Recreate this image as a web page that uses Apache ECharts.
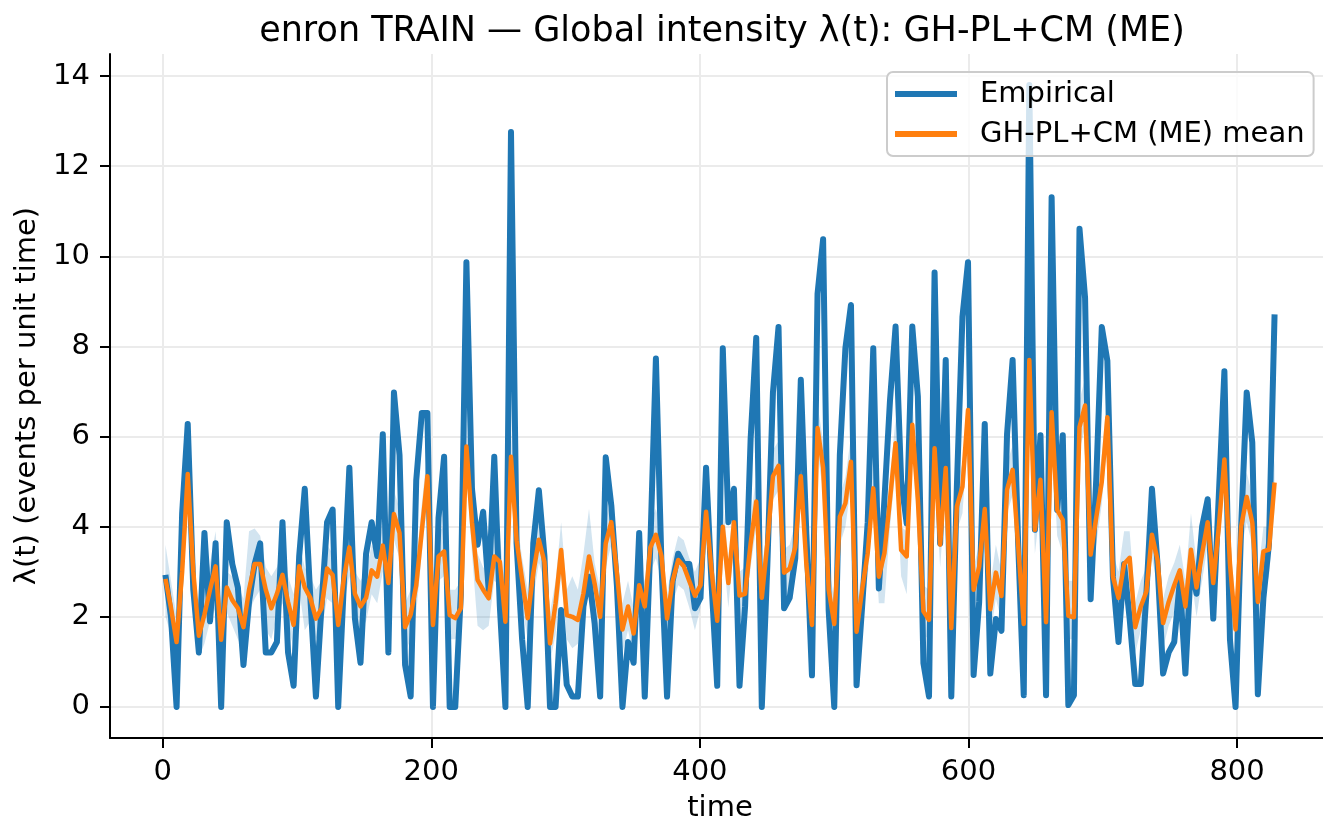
<!DOCTYPE html>
<html>
<head>
<meta charset="utf-8">
<script src="https://cdn.jsdelivr.net/npm/echarts@6/dist/echarts.min.js"></script>
<style>html,body{margin:0;padding:0;background:#fff}#c{width:1323px;height:825px}</style>
</head>
<body>
<div id="c"></div>
<script>
// bin centres: 200 bins of width 4.15 starting at 0
const BIN_START = 2.075, BIN_STEP = 4.15, N_BINS = 200;
const TIME = Array.from({length: N_BINS}, (_, k) => +(BIN_START + BIN_STEP * k).toFixed(3));

const EMPIRICAL = [
  2.93, 2.0, 0, 4.3, 6.28, 2.6, 1.21, 3.86, 1.9, 3.63,
  0, 4.1, 3.17, 2.65, 0.93, 2.33, 3.17, 3.63, 1.21, 1.21,
  1.44, 4.1, 1.21, 0.47, 3.35, 4.84, 2.42, 0.23, 2.23, 4.1,
  4.38, 0, 2.7, 5.31, 1.96, 0.98, 3.4, 4.1, 3.35, 6.05,
  1.21, 6.98, 5.59, 0.93, 0.23, 5.03, 6.52, 6.52, 0, 4.2,
  5.55, 0, 0, 2.5, 9.87, 4.84, 3.6, 4.33, 2.6, 5.55,
  2.23, 0, 12.76, 3.63, 1.49, 0, 3.63, 4.81, 3.35, 0,
  0, 2.15, 0.49, 0.23, 0.23, 2.23, 2.89, 1.86, 0.23, 5.54,
  4.47, 2.7, 0, 1.44, 0.98, 3.86, 0.23, 3.58, 7.73, 3.17,
  0.23, 2.79, 3.4, 3.17, 3.17, 2.19, 2.42, 5.31, 2.7, 0.47,
  7.96, 4.1, 4.84, 0.47, 2.23, 5.96, 8.19, 0, 3.17, 6.98,
  8.43, 2.19, 2.42, 3.3, 7.26, 3.82, 0.7, 9.17, 10.38, 2.14,
  0, 5.59, 7.96, 8.92, 0.48, 2.23, 4.1, 7.96, 2.63, 4.6,
  6.8, 8.44, 5.03, 4.07, 8.44, 6.89, 0.97, 0.23, 9.64, 3.63,
  7.7, 0.23, 4.9, 8.66, 9.87, 0.71, 2.33, 6.28, 0.74, 1.95,
  1.69, 6.05, 7.7, 3.63, 0.26, 13.8, 3.93, 6.03, 0.26, 11.31,
  4.37, 6.03, 0.04, 0.26, 10.61, 9.08, 2.39, 5.03, 8.43, 7.68,
  2.89, 1.44, 3.17, 1.96, 0.51, 0.51, 2.51, 4.84, 3.17, 0.74,
  1.21, 1.44, 2.79, 0.74, 3.17, 2.51, 4.0, 4.61, 1.96, 4.7,
  7.45, 1.49, 0, 4.0, 6.98, 5.87, 0.28, 2.42, 3.63, 8.71
];

const MODEL_MEAN = [
  2.84, 2.2, 1.44, 3.0, 5.17, 3.0, 1.58, 2.05, 2.6, 3.12,
  1.49, 2.65, 2.37, 2.19, 1.77, 2.6, 3.17, 3.17, 2.6, 2.19,
  2.51, 2.93, 2.33, 1.82, 3.12, 2.65, 2.42, 1.96, 2.19, 3.07,
  2.93, 1.82, 2.84, 3.54, 2.51, 2.23, 2.42, 3.03, 2.89, 3.58,
  2.75, 4.28, 3.86, 1.77, 2.05, 2.7, 3.91, 5.12, 1.82, 3.34,
  3.45, 2.04, 1.97, 2.19, 5.78, 4.1, 2.82, 2.6, 2.41, 3.34,
  3.22, 1.89, 5.55, 3.7, 2.82, 1.97, 2.97, 3.71, 3.22, 1.41,
  2.3, 3.48, 2.04, 2.0, 1.93, 2.52, 3.34, 2.74, 2.0, 3.63,
  4.1, 2.98, 1.72, 2.23, 1.63, 2.7, 2.23, 3.54, 3.82, 3.35,
  1.96, 2.79, 3.26, 3.12, 2.79, 2.47, 2.7, 4.33, 3.0, 1.91,
  4.0, 2.75, 4.1, 2.47, 2.51, 3.63, 4.56, 2.42, 3.63, 5.12,
  5.35, 2.98, 3.07, 3.54, 5.12, 3.17, 1.82, 6.19, 5.31, 2.6,
  1.84, 4.22, 4.52, 5.44, 1.67, 2.6, 3.41, 4.85, 2.89, 3.41,
  4.6, 5.85, 3.48, 3.34, 6.26, 4.6, 2.12, 1.93, 5.74, 3.6,
  5.3, 1.75, 4.45, 4.89, 6.59, 2.6, 3.11, 4.39, 2.17, 2.98,
  2.46, 4.82, 5.26, 3.57, 1.84, 7.7, 3.93, 5.04, 1.88, 6.54,
  4.37, 4.15, 2.02, 1.99, 6.21, 6.69, 3.38, 4.2, 5.0, 6.43,
  2.89, 2.42, 3.17, 3.31, 1.77, 2.23, 2.56, 3.82, 3.26, 1.86,
  2.33, 2.7, 3.03, 2.23, 3.49, 2.65, 3.4, 4.1, 2.75, 4.0,
  5.49, 3.17, 1.72, 4.0, 4.66, 4.1, 2.33, 3.45, 3.49, 4.98
];

const BAND_LOW = [
  2.0, 1.6, 1.2, 2.4, 4.4, 2.4, 1.1, 1.4, 1.9, 2.2,
  0.9, 2.1, 1.8, 1.5, 1.2, 2.1, 2.4, 2.6, 1.7, 1.5,
  2.0, 2.3, 1.8, 1.3, 2.6, 1.7, 1.9, 1.5, 1.7, 2.4,
  2.3, 1.3, 2.3, 2.9, 2.0, 1.7, 1.9, 2.5, 2.3, 3.0,
  2.2, 3.7, 3.3, 1.2, 1.5, 2.1, 3.4, 4.6, 1.3, 2.8,
  2.9, 1.5, 1.5, 1.7, 5.2, 3.4, 1.8, 1.7, 1.8, 2.8,
  2.7, 1.4, 5.0, 3.1, 2.2, 1.5, 2.4, 3.2, 2.8, 1.0,
  1.6, 2.9, 1.5, 1.3, 1.4, 2.1, 2.8, 2.1, 1.4, 3.1,
  3.6, 2.4, 1.2, 1.7, 1.1, 2.2, 1.7, 3.0, 3.3, 2.8,
  1.4, 2.3, 2.7, 2.6, 2.2, 1.7, 2.2, 3.8, 2.5, 1.4,
  3.5, 2.2, 3.6, 1.9, 2.0, 3.1, 4.0, 1.9, 3.1, 4.6,
  4.8, 2.4, 2.5, 3.0, 4.6, 2.6, 1.3, 5.6, 4.8, 2.1,
  1.3, 3.6, 4.0, 4.9, 1.1, 2.0, 2.9, 4.3, 2.3, 2.3,
  4.0, 5.3, 2.9, 2.5, 5.7, 3.9, 1.6, 1.5, 5.2, 3.1,
  4.8, 1.2, 3.9, 4.3, 6.0, 2.1, 2.5, 3.8, 1.6, 2.4,
  1.9, 4.3, 4.7, 3.1, 1.3, 7.2, 3.4, 4.5, 1.4, 6.1,
  3.8, 3.4, 1.5, 1.5, 5.7, 6.2, 2.9, 3.6, 4.5, 5.9,
  2.3, 1.9, 2.6, 2.7, 1.2, 1.7, 2.0, 3.3, 2.7, 1.3,
  1.8, 2.1, 2.5, 1.6, 2.9, 2.0, 2.8, 3.6, 2.2, 3.5,
  4.9, 2.6, 1.2, 3.5, 4.1, 3.6, 1.8, 2.5, 2.9, 4.4
];

const BAND_HIGH = [
  3.6, 2.8, 2.0, 3.8, 5.5, 3.4, 2.0, 2.6, 3.2, 3.9,
  2.0, 3.0, 2.9, 2.7, 2.4, 3.9, 3.96, 3.8, 3.1, 2.9,
  3.1, 3.5, 2.9, 2.5, 3.6, 3.1, 2.9, 2.6, 2.8, 3.6,
  3.4, 2.3, 3.3, 4.0, 3.0, 2.8, 3.0, 3.6, 3.4, 4.1,
  3.3, 4.8, 4.4, 2.3, 2.6, 3.2, 4.5, 5.7, 2.4, 3.9,
  4.0, 2.6, 2.6, 2.8, 6.3, 4.6, 3.4, 3.1, 3.0, 3.9,
  3.8, 2.5, 6.1, 4.2, 3.3, 2.6, 3.5, 4.3, 3.9, 2.1,
  2.8, 4.1, 2.6, 2.9, 2.6, 3.4, 4.4, 3.2, 2.6, 4.2,
  4.6, 3.5, 2.3, 2.8, 2.2, 3.2, 2.8, 4.1, 4.4, 3.9,
  2.5, 3.3, 3.8, 3.7, 3.3, 3.0, 3.3, 4.9, 3.6, 2.5,
  4.6, 3.3, 4.7, 3.0, 3.1, 4.2, 5.1, 3.0, 4.2, 5.7,
  5.9, 3.5, 3.6, 4.1, 5.7, 3.7, 2.4, 6.7, 5.9, 3.1,
  2.4, 4.7, 5.1, 6.0, 2.2, 3.1, 4.0, 5.4, 3.4, 4.0,
  5.1, 6.4, 4.0, 3.9, 6.8, 5.1, 2.7, 2.6, 6.3, 4.2,
  5.9, 2.3, 5.0, 5.4, 7.1, 3.1, 3.6, 4.9, 2.7, 3.6,
  3.0, 5.4, 5.8, 4.2, 2.4, 8.2, 4.5, 5.6, 2.5, 7.1,
  4.9, 4.7, 2.8, 2.8, 6.8, 7.3, 4.0, 4.7, 5.6, 7.0,
  3.4, 3.0, 3.9, 3.9, 2.3, 2.8, 3.1, 4.4, 3.8, 2.4,
  2.9, 3.2, 3.6, 2.8, 4.3, 3.2, 4.0, 4.7, 3.3, 4.6,
  6.0, 3.7, 2.3, 4.6, 5.2, 4.7, 2.9, 4.0, 4.0, 5.5
];

const X_TICKS = [0, 200, 400, 600, 800];
const Y_TICKS = [0, 2, 4, 6, 8, 10, 12, 14];

const FONT = 'DejaVu Sans';
const BLUE = '#1f77b4', ORANGE = '#ff7f0e';

const chart = echarts.init(document.getElementById('c'), null, {renderer: 'canvas'});

const empData = TIME.map((t, i) => [t, EMPIRICAL[i]]);
const meanData = TIME.map((t, i) => [t, MODEL_MEAN[i]]);
const bandData = TIME.map((t, i) => [t, BAND_LOW[i], BAND_HIGH[i]]);

chart.setOption({
  animation: false,
  backgroundColor: '#ffffff',
  textStyle: {fontFamily: FONT},
  title: {
    text: 'enron TRAIN — Global intensity λ(t): GH-PL+CM (ME)',
    left: 722, top: 14, padding: 0, textAlign: 'center',
    textStyle: {fontFamily: FONT, fontSize: 35, fontWeight: 'normal', color: '#000'}
  },
  grid: {left: 110, right: -7, top: 54, bottom: 87, containLabel: false, outerBoundsMode: 'none'},
  legend: {
    orient: 'vertical', left: 887, top: 72,
    padding: [7, 9, 7, 8], itemGap: 10,
    itemWidth: 62, itemHeight: 6, icon: 'rect',
    backgroundColor: 'rgba(255,255,255,0.8)',
    borderColor: '#cccccc', borderWidth: 2, borderRadius: 6,
    textStyle: {fontFamily: FONT, fontSize: 29, color: '#000', lineHeight: 30, padding: [0, 0, 0, 18]},
    data: ['Empirical', 'GH-PL+CM (ME) mean'],
    z: 10
  },
  xAxis: {
    type: 'value', min: -39.2, max: 869.2,
    name: 'time', nameLocation: 'middle', nameGap: 56,
    nameTextStyle: {fontFamily: FONT, fontSize: 29, color: '#000'},
    axisLine: {onZero: false, lineStyle: {color: '#000', width: 2}},
    axisTick: {length: 10, lineStyle: {color: '#000', width: 2}, customValues: X_TICKS},
    axisLabel: {customValues: X_TICKS, fontFamily: FONT, fontSize: 29, color: '#000', margin: 20},
    splitLine: {show: true, lineStyle: {color: '#ebebeb', width: 2}}
  },
  yAxis: {
    type: 'value', min: -0.69, max: 14.49,
    name: 'λ(t) (events per unit time)', nameLocation: 'middle', nameGap: 67, nameRotate: 90,
    nameTextStyle: {fontFamily: FONT, fontSize: 29, color: '#000'},
    axisLine: {show: true, onZero: false, lineStyle: {color: '#000', width: 2}},
    axisTick: {show: true, length: 10, lineStyle: {color: '#000', width: 2}, customValues: Y_TICKS},
    axisLabel: {customValues: Y_TICKS, fontFamily: FONT, fontSize: 29, color: '#000', margin: 20},
    splitLine: {show: true, lineStyle: {color: '#ebebeb', width: 2}}
  },
  series: [
    {
      name: 'band', type: 'custom', z: 1, silent: true,
      data: bandData,
      encode: {x: 0, y: [1, 2]},
      renderItem: function (params, api) {
        if (params.dataIndex !== 0) return null;
        const pts = [];
        for (let i = 0; i < bandData.length; i++) pts.push(api.coord([bandData[i][0], bandData[i][2]]));
        for (let i = bandData.length - 1; i >= 0; i--) pts.push(api.coord([bandData[i][0], bandData[i][1]]));
        return {type: 'polygon', shape: {points: pts}, style: {fill: 'rgba(31,119,180,0.2)', stroke: null}};
      }
    },
    {
      name: 'Empirical', type: 'line', z: 3, data: empData,
      showSymbol: false, symbol: 'none',
      itemStyle: {color: BLUE},
      lineStyle: {color: BLUE, width: 6, join: 'round', cap: 'butt'}
    },
    {
      name: 'GH-PL+CM (ME) mean', type: 'line', z: 4, data: meanData,
      showSymbol: false, symbol: 'none',
      itemStyle: {color: ORANGE},
      lineStyle: {color: ORANGE, width: 4.5, join: 'round', cap: 'butt'}
    }
  ]
});
</script>
</body>
</html>
